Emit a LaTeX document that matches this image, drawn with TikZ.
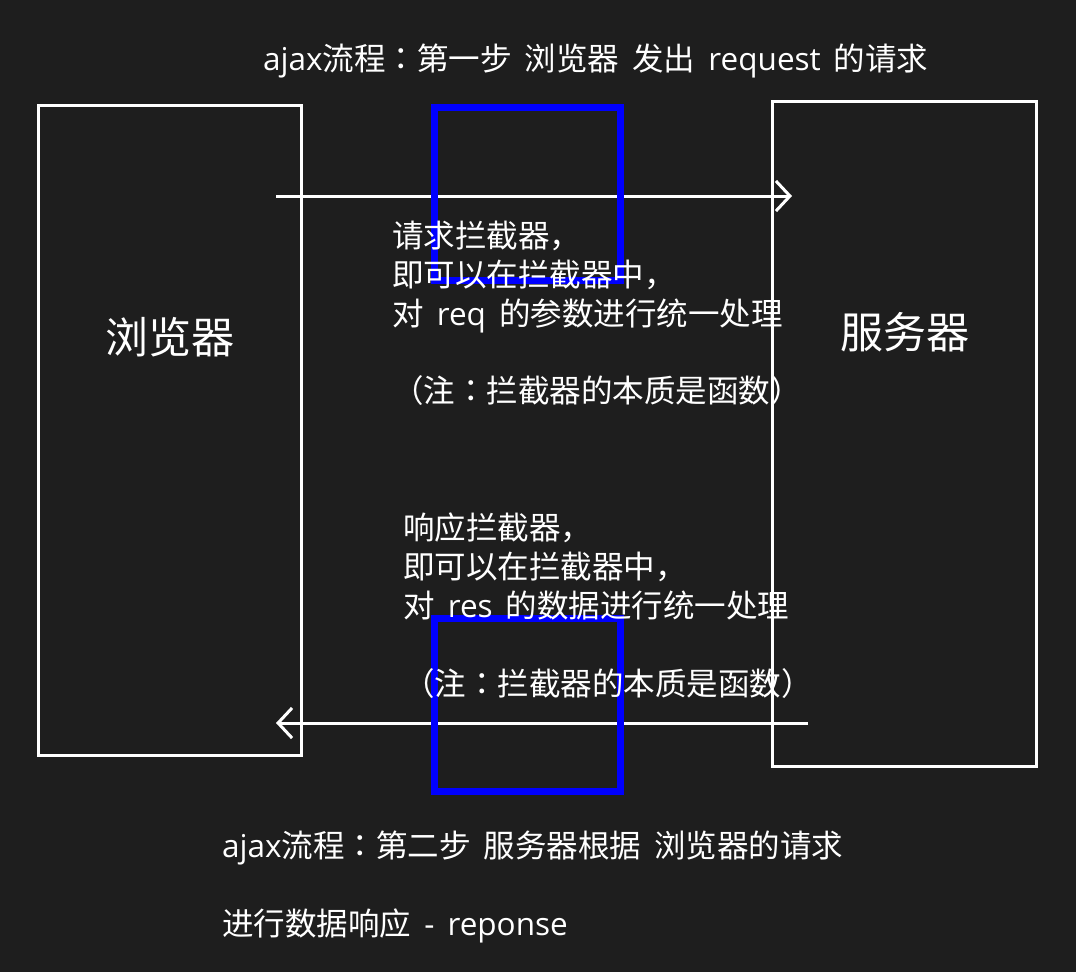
\documentclass[tikz,border=0pt]{standalone}
\usepackage{fontspec}
\setmainfont{Noto Sans CJK JP}
\newfontfamily\lat[WordSpace=1.6]{Open Sans}
\usetikzlibrary{arrows.meta}
\definecolor{bgdark}{HTML}{1E1E1E}
\definecolor{filterblue}{HTML}{0000FF}
\tikzset{
  frame/.style={draw=white,line width=3pt,inner sep=0pt},
  filter/.style={draw=filterblue,line width=6.5pt,inner sep=0pt,minimum width=186pt},
  side/.style={text=white,inner sep=0pt,font=\fontsize{43}{50}\selectfont},
  note/.style={text=white,inner sep=0pt,align=left,font=\fontsize{31.5}{38.8}\selectfont},
  flow/.style={draw=white,line width=3pt,-{Straight Barb[length=14pt,width=30pt]}}
}
\begin{document}
\begin{tikzpicture}[x=1pt,y=-1pt]
\def	\ya	{196};
\def	\yb	{723};
\fill[bgdark] (0,0) rectangle (1076,972);
\useasboundingbox (0,0) rectangle (1076,972);
% browser and server
\node[frame,minimum width=263pt,minimum height=650pt] (browser) at (170,430.5) {};
\node[frame,minimum width=264pt,minimum height=665pt] (server) at (904.5,434) {};
\node[side] (browserlabel) at (170,337) {浏览器};
\node[side] (serverlabel) at (904.5,332) {服务器};
% request and response
\coordinate (reqstart) at (276,\ya);
\coordinate (reqend) at (792,\ya);
\coordinate (resstart) at (808,\yb);
\coordinate (resend) at (276,\yb);
\draw[flow] (reqstart) -- (reqend);
\draw[flow] (resstart) -- (resend);
% interceptors
\node[filter,minimum height=173pt] (reqfilter) at (527.5,194) {};
\node[filter,minimum height=173pt] (resfilter) at (527.5,705) {};
\begin{scope}[every node/.style={note}]
\node[anchor=west] (step1) at (263,61) {{\lat ajax}流程：第一步{\lat\ }浏览器{\lat\ }发出{\lat\ request }的请求};
\node[anchor=north west] (reqnote) at (392,221) {请求拦截器，\\即可以在拦截器中，\\对{\lat\ req }的参数进行统一处理\\[\baselineskip]（注：拦截器的本质是函数）};
\node[anchor=north west] (resnote) at (403,513) {响应拦截器，\\即可以在拦截器中，\\对{\lat\ res }的数据进行统一处理\\[\baselineskip]（注：拦截器的本质是函数）};
\node[anchor=west] (step2) at (222,848) {{\lat ajax}流程：第二步{\lat\ }服务器根据{\lat\ }浏览器的请求};
\node[anchor=west] (step2b) at (222,926) {进行数据响应{\lat\ - reponse}};
\end{scope}
\end{tikzpicture}
\end{document}
